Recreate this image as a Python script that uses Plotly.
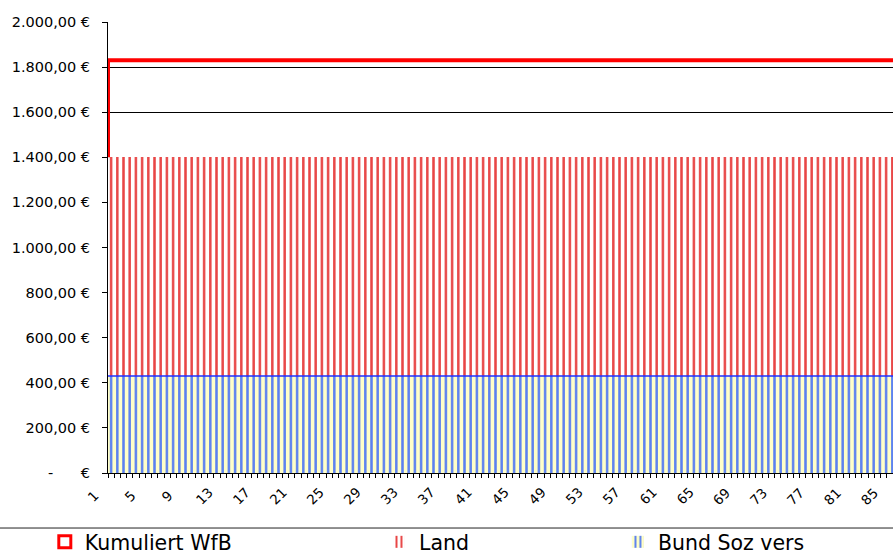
import plotly.graph_objects as go

# ---- data ----
months = list(range(1, 128))                    # category index (x axis)
bund_soz_vers = [430] * 127                     # bottom stack
land = [970] * 127                              # stacked on top (total 1400)
kumuliert_wfb = [1400] + [1830] * 126           # cumulative line
y_tick_vals = [0, 200, 400, 600, 800, 1000, 1200, 1400, 1600, 1800, 2000]
NB = "\u00a0"
y_tick_text = ["-" + NB * 6 + "€", "200,00 €", "400,00 €", "600,00 €", "800,00 €",
               "1.000,00 €", "1.200,00 €", "1.400,00 €", "1.600,00 €", "1.800,00 €",
               "2.000,00 €"]
x_label_values = list(range(1, 86, 4))          # 1, 5, 9, ..., 85

X_MAX = 126                                     # visible categories
# label placement along x (axis units): offset and step per label value
LABEL_START = -2.36
LABEL_STEP = 1.484

fig = go.Figure()

fig.add_trace(go.Bar(
    x=months, y=bund_soz_vers, offset=-1, width=1, name="Bund Soz vers",
    marker=dict(color="#FFFFC8",
                pattern=dict(shape="|", fgcolor="#5A80F0", bgcolor="#FFFFC8",
                             fgopacity=1, size=6.2, solidity=0.4),
                line=dict(width=0)),
    legend="legend3"))

fig.add_trace(go.Bar(
    x=months, y=land, offset=-1, width=1, name="Land",
    marker=dict(color="white",
                pattern=dict(shape="|", fgcolor="#E84545", bgcolor="white",
                             fgopacity=1, size=6.2, solidity=0.4),
                line=dict(width=0)),
    legend="legend2"))

# top outline of the Bund Soz vers columns
fig.add_trace(go.Scatter(
    x=[m - 1 for m in months], y=bund_soz_vers, mode="lines",
    line=dict(color="#1F2FFF", width=1.6, shape="hv"),
    showlegend=False, hoverinfo="skip"))

fig.add_trace(go.Scatter(
    x=[m - 1 for m in months], y=kumuliert_wfb, mode="lines",
    line=dict(color="#FF0000", width=4, shape="vh"),
    showlegend=False, hoverinfo="skip"))

# legend entry for the cumulative series (hollow red square as in the reference)
fig.add_trace(go.Bar(
    x=[None], y=[None], name="Kumuliert WfB",
    marker=dict(color="white", line=dict(color="#FF0000", width=3)),
    legend="legend"))

annotations = []
for v in x_label_values:
    annotations.append(dict(
        x=(LABEL_START + (v - 1) * LABEL_STEP) / X_MAX, xref="paper",
        y=-0.052, yref="paper", text=str(v), showarrow=False,
        textangle=-45, xanchor="center", yanchor="middle",
        font=dict(size=13.5, family="DejaVu Sans", color="black")))

leg_common = dict(orientation="h", yanchor="middle", xanchor="left",
                  font=dict(size=20.5, family="DejaVu Sans", color="black"),
                  bgcolor="rgba(0,0,0,0)")

fig.update_layout(
    width=893, height=554,
    margin=dict(l=108, r=0, t=22, b=81, autoexpand=False),
    plot_bgcolor="white", paper_bgcolor="white",
    barmode="stack", bargap=0,
    font=dict(family="DejaVu Sans", color="black"),
    xaxis=dict(range=[0, X_MAX], showline=True, linecolor="black", linewidth=1,
               showgrid=False, zeroline=False, tickmode="linear", tick0=0, dtick=1,
               ticks="outside", ticklen=4, tickcolor="black", showticklabels=False,
               automargin=False),
    yaxis=dict(range=[0, 2000], tickmode="array", tickvals=y_tick_vals,
               ticktext=y_tick_text, ticks="outside", ticklen=5, tickcolor="black",
               showline=True, linecolor="black", linewidth=1,
               showgrid=True, gridcolor="black", gridwidth=1, zeroline=False,
               tickfont=dict(size=14.5, family="DejaVu Sans", color="black"),
               ticklabelstandoff=9, automargin=False),
    legend=dict(x=-0.0805, y=-0.153, **leg_common),
    legend2=dict(x=0.3452, y=-0.153, **leg_common),
    legend3=dict(x=0.6496, y=-0.153, **leg_common),
    shapes=[dict(type="line", xref="paper", yref="paper", x0=-0.2, x1=1.05,
                 y0=-0.122, y1=-0.122, line=dict(color="#222222", width=1))],
    annotations=annotations,
)

# remove the default page margin so the 893x554 figure fills the window exactly
fig.write_html("out.html",
               config={"displayModeBar": False},
               post_script="document.body.style.margin='0';"
                           "document.body.style.overflow='hidden';")
